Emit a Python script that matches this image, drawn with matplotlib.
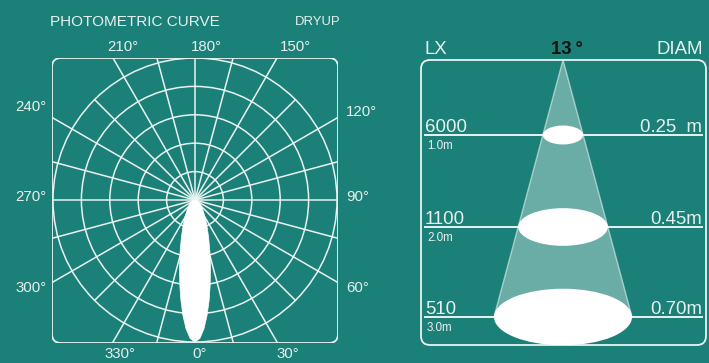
import numpy as np
import matplotlib
matplotlib.use("Agg")
import matplotlib.pyplot as plt
from matplotlib.patches import FancyBboxPatch, Circle, Ellipse, Polygon

plt.rcParams['font.family'] = ['Liberation Sans', 'DejaVu Sans']

# ---- data ----
# relative intensity of the beam (symmetric about 0 deg)
lobe_angles = [0, 2, 4, 6, 8, 10, 13, 16, 20, 25, 30, 40, 50, 60, 75, 90]
lobe_values = [1.0, 0.976, 0.909, 0.816, 0.714, 0.614, 0.484, 0.381, 0.281,
               0.198, 0.144, 0.083, 0.05, 0.031, 0.013, 0.0]
angle_labels = ['0°', '30°', '60°', '90°', '120°', '150°', '180°',
                '210°', '240°', '270°', '300°', '330°']
ring_levels = [0.2, 0.4, 0.6, 0.8, 1.0]

beam_angle = '13\u2009°'
distances = ['1.0m', '2.0m', '3.0m']
lux = ['6000', '1100', '510']
diameters = ['0.25  m', '0.45m', '0.70m']

# ---- style ----
BG = '#1b8077'
FG = '#e6f1ef'
GRID = '#e9f3f1'
W, H = 709, 363

fig = plt.figure(figsize=(W / 100, H / 100), dpi=100, facecolor=BG)

# overlay axes in pixel units for all the text
ax0 = fig.add_axes([0, 0, 1, 1])
ax0.set_xlim(0, W)
ax0.set_ylim(H, 0)
ax0.axis('off')

# ---------------- left: polar curve ----------------
cx, cy, R = 195, 200, 142
bx0, bx1, by0, by1 = 52, 338, 58, 343
axp = fig.add_axes([bx0 / W, (H - by1) / H, (bx1 - bx0) / W, (by1 - by0) / H])
axp.set_xlim((bx0 - cx) / R, (bx1 - cx) / R)
axp.set_ylim(-(by1 - cy) / R, (cy - by0) / R)
axp.axis('off')

box = FancyBboxPatch(((bx0 - cx) / R, -(by1 - cy) / R),
                     (bx1 - bx0) / R, (by1 - by0) / R,
                     boxstyle="round,pad=0,rounding_size=%f" % (9 / R),
                     fc='none', ec=GRID, lw=1.3)
axp.add_patch(box)

for r in ring_levels:
    c = Circle((0, 0), r, fc='none', ec=GRID, lw=1.1)
    axp.add_patch(c)
    c.set_clip_path(box)

for a in range(0, 360, 15):
    t = np.radians(a)
    # diagonal spokes stop at the outer ring, the rest run to the frame
    L = 1.0 if a % 90 == 45 else 2.0
    ln, = axp.plot([0, L * np.sin(t)], [0, -L * np.cos(t)], color=GRID, lw=1.1)
    ln.set_clip_path(box)

ang = np.radians(np.array([-a for a in lobe_angles[::-1]] + lobe_angles[1:]))
val = np.array(lobe_values[::-1] + lobe_values[1:])
pts = np.column_stack([val * np.sin(ang), -val * np.cos(ang)])
axp.add_patch(Polygon(pts, closed=True, fc='white', ec='white', lw=0.5, zorder=5))

ax0.text(50, 26, 'PHOTOMETRIC CURVE', color=FG, fontsize=11, va='baseline', ha='left')
ax0.text(295, 25, 'DRYUP', color=FG, fontsize=9.4, va='baseline', ha='left')

label_pos = {
    '0°': (200, 354), '30°': (288, 354), '330°': (120, 354),
    '180°': (206, 47), '150°': (295, 47), '210°': (123, 47),
    '240°': (31, 107), '270°': (31, 197), '300°': (31, 288),
    '120°': (361, 112), '90°': (358, 197), '60°': (358, 288),
}
for lab in angle_labels:
    x, y = label_pos[lab]
    ax0.text(x, y, lab, color=FG, fontsize=10.8, ha='center', va='center')

# ---------------- right: beam cone ----------------
rx0, rx1, ry0, ry1 = 421, 706, 60, 345
apex_x = 563
row_y = [135, 227, 317]
cone_bottom_half = 69
ell_ratio = [0.47, 0.42, 0.41]

rbox = FancyBboxPatch((rx0, ry0), rx1 - rx0, ry1 - ry0,
                      boxstyle="round,pad=0,rounding_size=9",
                      fc='none', ec=GRID, lw=1.3)
ax0.add_patch(rbox)

slope = cone_bottom_half / (row_y[-1] - ry0)
cone = Polygon([(apex_x, ry0), (apex_x - cone_bottom_half, row_y[-1]),
                (apex_x + cone_bottom_half, row_y[-1])],
               closed=True, fc='white', alpha=0.35, ec='none')
ax0.add_patch(cone)
ax0.plot([apex_x - cone_bottom_half, apex_x, apex_x + cone_bottom_half],
         [row_y[-1], ry0, row_y[-1]], color=GRID, lw=1.0, alpha=0.6)

for i, y in enumerate(row_y):
    ax0.plot([425, 702], [y, y], color=GRID, lw=1.4, zorder=2)
    half = (y - ry0) * slope
    e = Ellipse((apex_x, y), 2 * half, 2 * half * ell_ratio[i],
                fc='white', ec='none', zorder=3)
    ax0.add_patch(e)
    e.set_clip_path(rbox)
    ax0.text(425, y - 2.5, lux[i], color=FG, fontsize=13.4, ha='left', va='baseline')
    ax0.text(427, y + 14, distances[i], color=FG, fontsize=8.4, ha='left', va='baseline')
    ax0.text(702, y - 2.5, diameters[i], color=FG, fontsize=13.4, ha='right', va='baseline')

ax0.text(425, 54, 'LX', color=FG, fontsize=13.4, ha='left', va='baseline')
ax0.text(703, 54, 'DIAM', color=FG, fontsize=13.4, ha='right', va='baseline')
ax0.text(567, 54, beam_angle, color='#111111', fontsize=13.4, fontweight='bold',
         ha='center', va='baseline')

fig.savefig('out.png', dpi=100, facecolor=BG)
